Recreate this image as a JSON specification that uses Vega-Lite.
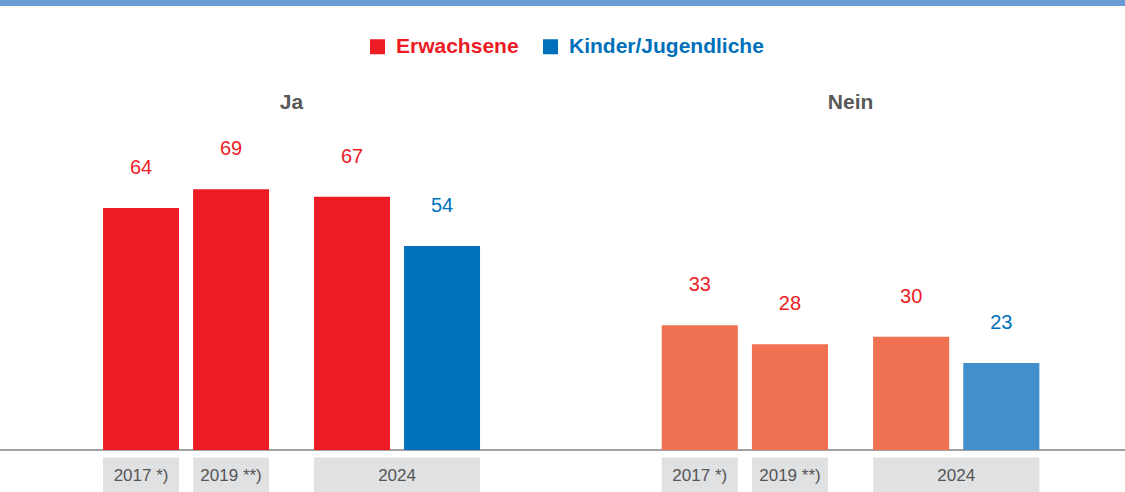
{
  "$schema": "https://vega.github.io/schema/vega-lite/v6.json",
  "padding": 0,
  "spacing": 0,
  "bounds": "flush",
  "background": "white",
  "config": {"view": {"stroke": null}, "font": "Liberation Sans"},
  "data": {"values": [
    {"antwort": "Ja", "jahr": "2017 *)", "block": "2017/2019", "stelle": "1", "gruppe": "Erwachsene", "anteil": 64},
    {"antwort": "Ja", "jahr": "2019 **)", "block": "2017/2019", "stelle": "2", "gruppe": "Erwachsene", "anteil": 69},
    {"antwort": "Ja", "jahr": "2024", "block": "2024", "stelle": "1", "gruppe": "Erwachsene", "anteil": 67},
    {"antwort": "Ja", "jahr": "2024", "block": "2024", "stelle": "2", "gruppe": "Kinder/Jugendliche", "anteil": 54},
    {"antwort": "Nein", "jahr": "2017 *)", "block": "2017/2019", "stelle": "1", "gruppe": "Erwachsene", "anteil": 33},
    {"antwort": "Nein", "jahr": "2019 **)", "block": "2017/2019", "stelle": "2", "gruppe": "Erwachsene", "anteil": 28},
    {"antwort": "Nein", "jahr": "2024", "block": "2024", "stelle": "1", "gruppe": "Erwachsene", "anteil": 30},
    {"antwort": "Nein", "jahr": "2024", "block": "2024", "stelle": "2", "gruppe": "Kinder/Jugendliche", "anteil": 23}
  ]},
  "resolve": {"scale": {"x": "independent", "xOffset": "independent", "color": "independent", "y": "shared"}, "legend": {"color": "independent"}},
  "hconcat": [
    {
      "width": 562,
      "height": 492,
      "transform": [{"filter": "datum.antwort == 'Ja'"}],
      "layer": [
        {"mark": {"type": "rect", "color": "#699CD2"},
         "encoding": {"y": {"datum": 119.05, "type": "quantitative", "axis": null, "scale": {"domain": [-11.1, 119.05], "nice": false, "zero": false}}, "y2": {"datum": 117.46}}},
        {"mark": {"type": "rect", "color": "#A0A0A0"},
         "encoding": {"y": {"datum": 0.2, "type": "quantitative", "axis": null}, "y2": {"datum": -0.2}}},
        {"mark": {"type": "bar"},
         "encoding": {
           "x": {"field": "block", "type": "nominal", "axis": null, "scale": {"domain": ["2017/2019", "2024"], "paddingInner": 0.2133, "paddingOuter": 0.4384, "align": 0.557}},
           "xOffset": {"field": "stelle", "type": "nominal", "scale": {"domain": ["1", "2"], "paddingInner": 0.156, "paddingOuter": 0}},
           "y": {"field": "anteil", "type": "quantitative", "axis": null},
           "y2": {"datum": 0},
           "color": {"field": "gruppe", "type": "nominal", "scale": {"domain": ["Erwachsene", "Kinder/Jugendliche"], "range": ["#ED1C24", "#0070BA"]},
             "legend": {"title": null, "orient": "none", "legendX": 367, "legendY": 36, "direction": "horizontal", "symbolType": "square", "symbolSize": 225, "symbolStrokeWidth": 0, "symbolOpacity": 1, "labelFontSize": 21, "labelFontWeight": "bold", "labelOffset": 8, "columnPadding": 21, "labelLimit": 300, "labelFont": "Liberation Sans",
               "encode": {"labels": {"update": {"fill": {"signal": "datum.label == 'Erwachsene' ? '#ED1C24' : '#0070BA'"}}}}}}
         }},
        {"mark": {"type": "text", "dy": -40, "fontSize": 20, "baseline": "middle"},
         "encoding": {
           "x": {"field": "block", "type": "nominal", "axis": null},
           "xOffset": {"field": "stelle", "type": "nominal"},
           "y": {"field": "anteil", "type": "quantitative", "axis": null},
           "text": {"field": "anteil", "type": "quantitative"},
           "color": {"condition": {"test": "datum.gruppe == 'Erwachsene'", "value": "#ED1C24"}, "value": "#0070BA"}
         }},
        {"transform": [{"filter": "datum.block == '2017/2019'"}],
         "mark": {"type": "bar", "color": "#E0E1E3"},
         "encoding": {
           "x": {"field": "block", "type": "nominal", "axis": null},
           "xOffset": {"field": "stelle", "type": "nominal"},
           "y": {"datum": -2.0, "type": "quantitative", "axis": null},
           "y2": {"datum": -11.1}
         }},
        {"transform": [{"filter": "datum.block == '2017/2019'"}],
         "mark": {"type": "text", "fontSize": 17, "color": "#555555", "baseline": "middle"},
         "encoding": {
           "x": {"field": "block", "type": "nominal", "axis": null},
           "xOffset": {"field": "stelle", "type": "nominal"},
           "y": {"datum": -6.9, "type": "quantitative", "axis": null},
           "text": {"field": "jahr", "type": "nominal"}
         }},
        {"transform": [{"filter": "datum.block == '2024' && datum.gruppe == 'Erwachsene'"}],
         "mark": {"type": "bar", "color": "#E0E1E3"},
         "encoding": {
           "x": {"field": "block", "type": "nominal", "axis": null},
           "y": {"datum": -2.0, "type": "quantitative", "axis": null},
           "y2": {"datum": -11.1}
         }},
        {"transform": [{"filter": "datum.block == '2024' && datum.gruppe == 'Erwachsene'"}],
         "mark": {"type": "text", "fontSize": 17, "color": "#555555", "baseline": "middle"},
         "encoding": {
           "x": {"field": "block", "type": "nominal", "axis": null},
           "y": {"datum": -6.9, "type": "quantitative", "axis": null},
           "text": {"field": "jahr", "type": "nominal"}
         }},
        {"transform": [{"filter": "datum.jahr == '2017 *)'"}],
         "mark": {"type": "text", "fontSize": 21, "fontWeight": "bold", "color": "#595959", "baseline": "middle"},
         "encoding": {
           "x": {"field": "block", "type": "nominal", "axis": null, "bandPosition": 1.1355},
           "y": {"datum": 91.9, "type": "quantitative", "axis": null},
           "text": {"field": "antwort", "type": "nominal"}
         }}
      ]
    },
    {
      "width": 563,
      "height": 492,
      "transform": [{"filter": "datum.antwort == 'Nein'"}],
      "layer": [
        {"mark": {"type": "rect", "color": "#699CD2"},
         "encoding": {"y": {"datum": 119.05, "type": "quantitative", "axis": null, "scale": {"domain": [-11.1, 119.05], "nice": false, "zero": false}}, "y2": {"datum": 117.46}}},
        {"mark": {"type": "rect", "color": "#A0A0A0"},
         "encoding": {"y": {"datum": 0.2, "type": "quantitative", "axis": null}, "y2": {"datum": -0.2}}},
        {"mark": {"type": "bar"},
         "encoding": {
           "x": {"field": "block", "type": "nominal", "axis": null, "scale": {"domain": ["2017/2019", "2024"], "paddingInner": 0.2133, "paddingOuter": 0.4384, "align": 0.538}},
           "xOffset": {"field": "stelle", "type": "nominal", "scale": {"domain": ["1", "2"], "paddingInner": 0.156, "paddingOuter": 0}},
           "y": {"field": "anteil", "type": "quantitative", "axis": null},
           "y2": {"datum": 0},
           "color": {"field": "gruppe", "type": "nominal", "scale": {"domain": ["Erwachsene", "Kinder/Jugendliche"], "range": ["#F07052", "#428FCB"]}, "legend": null}
         }},
        {"mark": {"type": "text", "dy": -40, "fontSize": 20, "baseline": "middle"},
         "encoding": {
           "x": {"field": "block", "type": "nominal", "axis": null},
           "xOffset": {"field": "stelle", "type": "nominal"},
           "y": {"field": "anteil", "type": "quantitative", "axis": null},
           "text": {"field": "anteil", "type": "quantitative"},
           "color": {"condition": {"test": "datum.gruppe == 'Erwachsene'", "value": "#ED1C24"}, "value": "#0070BA"}
         }},
        {"transform": [{"filter": "datum.block == '2017/2019'"}],
         "mark": {"type": "bar", "color": "#E0E1E3"},
         "encoding": {
           "x": {"field": "block", "type": "nominal", "axis": null},
           "xOffset": {"field": "stelle", "type": "nominal"},
           "y": {"datum": -2.0, "type": "quantitative", "axis": null},
           "y2": {"datum": -11.1}
         }},
        {"transform": [{"filter": "datum.block == '2017/2019'"}],
         "mark": {"type": "text", "fontSize": 17, "color": "#555555", "baseline": "middle"},
         "encoding": {
           "x": {"field": "block", "type": "nominal", "axis": null},
           "xOffset": {"field": "stelle", "type": "nominal"},
           "y": {"datum": -6.9, "type": "quantitative", "axis": null},
           "text": {"field": "jahr", "type": "nominal"}
         }},
        {"transform": [{"filter": "datum.block == '2024' && datum.gruppe == 'Erwachsene'"}],
         "mark": {"type": "bar", "color": "#E0E1E3"},
         "encoding": {
           "x": {"field": "block", "type": "nominal", "axis": null},
           "y": {"datum": -2.0, "type": "quantitative", "axis": null},
           "y2": {"datum": -11.1}
         }},
        {"transform": [{"filter": "datum.block == '2024' && datum.gruppe == 'Erwachsene'"}],
         "mark": {"type": "text", "fontSize": 17, "color": "#555555", "baseline": "middle"},
         "encoding": {
           "x": {"field": "block", "type": "nominal", "axis": null},
           "y": {"datum": -6.9, "type": "quantitative", "axis": null},
           "text": {"field": "jahr", "type": "nominal"}
         }},
        {"transform": [{"filter": "datum.jahr == '2017 *)'"}],
         "mark": {"type": "text", "fontSize": 21, "fontWeight": "bold", "color": "#595959", "baseline": "middle"},
         "encoding": {
           "x": {"field": "block", "type": "nominal", "axis": null, "bandPosition": 1.1355},
           "y": {"datum": 91.9, "type": "quantitative", "axis": null},
           "text": {"field": "antwort", "type": "nominal"}
         }}
      ]
    }
  ]
}
